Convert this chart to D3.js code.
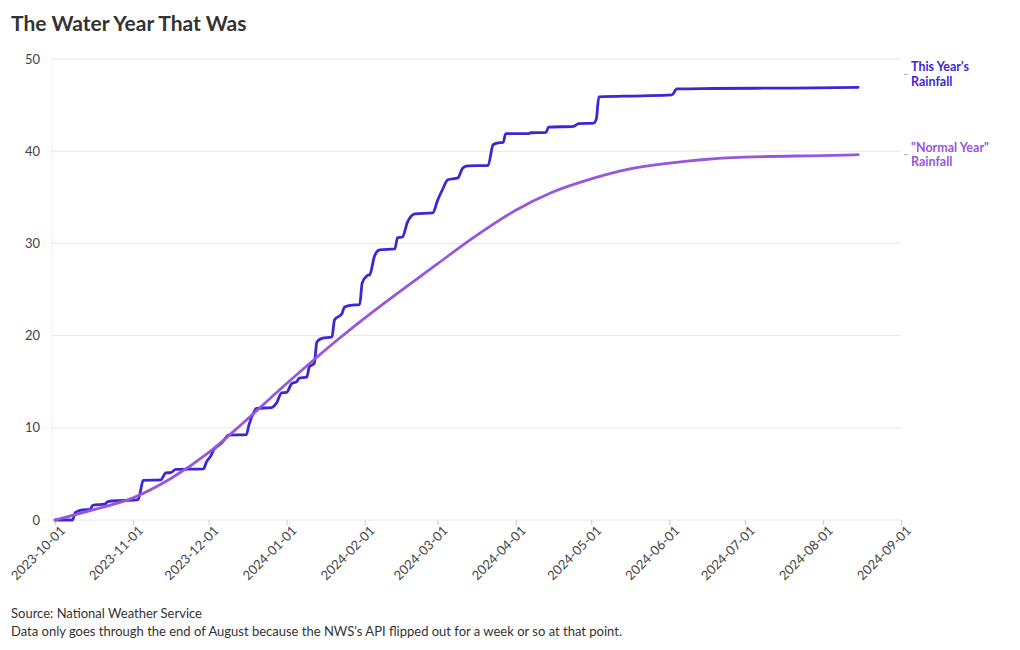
<!DOCTYPE html>
<html>
<head>
<meta charset="utf-8">
<script src="https://cdn.jsdelivr.net/npm/d3@7"></script>
<style>
  body { margin: 0; background: #fff; font-family: "Source Sans Pro", Lato, "Noto Sans", sans-serif; }
  svg text { font-family: "Source Sans Pro", Lato, "Noto Sans", sans-serif; }
</style>
</head>
<body>
<svg id="chart" width="1020" height="650"></svg>
<script>
// cumulative rainfall, inches
const thisYearDates = [
  "2023-10-01","2023-10-08","2023-10-09","2023-10-12","2023-10-15","2023-10-16","2023-10-21","2023-10-22",
  "2023-10-26","2023-11-01","2023-11-03","2023-11-04","2023-11-05","2023-11-12","2023-11-14","2023-11-16",
  "2023-11-18","2023-11-29","2023-11-30","2023-12-02","2023-12-03","2023-12-05","2023-12-06","2023-12-09",
  "2023-12-16","2023-12-17","2023-12-19","2023-12-20","2023-12-26","2023-12-28","2023-12-30","2024-01-01",
  "2024-01-03","2024-01-05","2024-01-06","2024-01-09","2024-01-10","2024-01-12","2024-01-13","2024-01-15",
  "2024-01-19","2024-01-20","2024-01-23","2024-01-24","2024-01-27","2024-01-30","2024-01-31","2024-02-02",
  "2024-02-03","2024-02-05","2024-02-07","2024-02-13","2024-02-14","2024-02-16","2024-02-18","2024-02-21",
  "2024-02-28","2024-03-01","2024-03-03","2024-03-05","2024-03-09","2024-03-11","2024-03-13","2024-03-21",
  "2024-03-23","2024-03-25","2024-03-27","2024-03-28","2024-04-06","2024-04-07","2024-04-13","2024-04-14",
  "2024-04-24","2024-04-26","2024-05-02","2024-05-03","2024-05-04","2024-05-21","2024-06-02","2024-06-04",
  "2024-06-18","2024-07-20","2024-08-15"
];
const thisYearValues = [
  0, 0, 0.8, 1.1, 1.15, 1.6, 1.75, 2.0,
  2.1, 2.15, 2.2, 3.2, 4.3, 4.35, 5.1, 5.15,
  5.5, 5.55, 6.2, 7.0, 7.6, 8.1, 8.3, 9.2,
  9.25, 10.3, 11.7, 12.1, 12.2, 12.7, 13.8, 13.85,
  14.8, 15.0, 15.4, 15.5, 16.6, 17.0, 19.3, 19.7,
  19.85, 21.7, 22.4, 23.1, 23.3, 23.35, 25.7, 26.5,
  26.6, 28.7, 29.3, 29.4, 30.6, 30.7, 32.3, 33.2,
  33.3, 34.7, 35.9, 36.9, 37.1, 38.2, 38.4, 38.45,
  40.7, 40.9, 40.95, 41.9, 41.9, 42.0, 42.05, 42.6,
  42.7, 43.0, 43.05, 43.5, 45.9, 46.0, 46.1, 46.75,
  46.8, 46.85, 46.93
];

const normalDates = [
  "2023-10-01","2023-10-16","2023-11-01","2023-11-16","2023-12-01","2023-12-15","2024-01-01","2024-01-21",
  "2024-02-01","2024-03-01","2024-03-15","2024-04-01","2024-04-15","2024-05-01","2024-05-15","2024-06-01",
  "2024-06-15","2024-07-01","2024-08-01","2024-08-15"
];
const normalValues = [
  0, 1.1, 2.4, 4.5, 7.3, 10.6, 14.8, 19.5,
  21.9, 27.8, 30.6, 33.6, 35.5, 37.0, 38.0, 38.7,
  39.1, 39.35, 39.53, 39.62
];

const seriesNames = ["This Year's", "Rainfall", "\"Normal Year\"", "Rainfall"];
const yTicks = [0, 10, 20, 30, 40, 50];
const xDomain = ["2023-10-01", "2024-09-01"];

const parse = d3.timeParse("%Y-%m-%d");
const thisYear = thisYearDates.map((d, i) => ({ date: parse(d), value: thisYearValues[i] }));
const normal = normalDates.map((d, i) => ({ date: parse(d), value: normalValues[i] }));

const blue = "#3d27d3";
const purple = "#9656dd";

const svg = d3.select("#chart");
const margin = { top: 59, right: 119, bottom: 130, left: 55 };
const width = 1020 - margin.left - margin.right;
const height = 650 - margin.top - margin.bottom;

const x = d3.scaleTime().domain(xDomain.map(parse)).range([0, width]);
const y = d3.scaleLinear().domain([0, 50]).range([height, 0]);

svg.append("text")
  .attr("x", 11).attr("y", 31)
  .attr("font-size", 21).attr("font-weight", 700).attr("fill", "#333")
  .text("The Water Year That Was");

const g = svg.append("g").attr("transform", `translate(${margin.left},${margin.top})`);

// gridlines
g.selectAll(".grid").data(yTicks).enter().append("line")
  .attr("x1", -4).attr("x2", width)
  .attr("y1", d => y(d)).attr("y2", d => y(d))
  .attr("stroke", "#e8e8e8").attr("stroke-width", 1);

g.append("line")
  .attr("x1", -3).attr("x2", -3).attr("y1", 0).attr("y2", height)
  .attr("stroke", "#eeeeee");

g.selectAll(".ylab").data(yTicks).enter().append("text")
  .attr("x", -15).attr("y", d => y(d)).attr("dy", "0.35em")
  .attr("text-anchor", "end").attr("font-size", 13).attr("fill", "#444")
  .text(d => d);

// x axis
const xAxis = g.append("g")
  .attr("transform", `translate(0,${height})`)
  .call(d3.axisBottom(x).ticks(d3.timeMonth.every(1)).tickFormat(d3.timeFormat("%Y-%m-%d")).tickSize(5).tickSizeOuter(0));
xAxis.select(".domain").remove();
xAxis.selectAll(".tick line").attr("stroke", "#cccccc");
xAxis.selectAll(".tick text")
  .attr("font-size", 13).attr("fill", "#444")
  .attr("text-anchor", "end")
  .attr("transform", "translate(3,4) rotate(-45)")
  .attr("dy", "0.35em").attr("y", 6);

g.append("path").datum(thisYear)
  .attr("fill", "none").attr("stroke", blue).attr("stroke-width", 2.8)
  .attr("stroke-linejoin", "round").attr("stroke-linecap", "round")
  .attr("d", d3.line().x(d => x(d.date)).y(d => y(d.value)).curve(d3.curveMonotoneX));

g.append("path").datum(normal)
  .attr("fill", "none").attr("stroke", purple).attr("stroke-width", 2.8)
  .attr("stroke-linejoin", "round").attr("stroke-linecap", "round")
  .attr("d", d3.line().x(d => x(d.date)).y(d => y(d.value)).curve(d3.curveMonotoneX));

// end labels
const labels = [
  { color: blue, yPos: y(thisYear[thisYear.length - 1].value) - 13, lines: seriesNames.slice(0, 2) },
  { color: purple, yPos: y(normal[normal.length - 1].value), lines: seriesNames.slice(2, 4) }
];
labels.forEach(l => {
  g.append("line")
    .attr("x1", width + 3).attr("x2", width + 7)
    .attr("y1", l.yPos).attr("y2", l.yPos)
    .attr("stroke", "#aaa");
  l.lines.forEach((s, i) => {
    g.append("text")
      .attr("x", width + 10).attr("y", l.yPos - 7.25 + i * 14.5).attr("dy", "0.35em")
      .attr("font-size", 12.5).attr("font-weight", 700).attr("fill", l.color)
      .text(s);
  });
});

// footer
svg.append("text").attr("x", 11).attr("y", 618)
  .attr("font-size", 13).attr("fill", "#333").text("Source: National Weather Service");
svg.append("text").attr("x", 11).attr("y", 636)
  .attr("font-size", 13).attr("fill", "#333")
  .text("Data only goes through the end of August because the NWS's API flipped out for a week or so at that point.");
</script>
</body>
</html>
